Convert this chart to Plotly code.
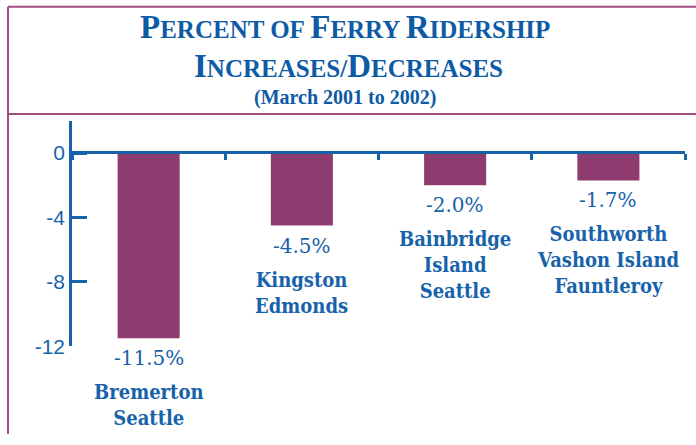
import plotly.graph_objects as go

categories = ["Bremerton<br>Seattle", "Kingston<br>Edmonds", "Bainbridge<br>Island<br>Seattle",
              "Southworth<br>Vashon Island<br>Fauntleroy"]
values = [-11.5, -4.5, -2.0, -1.7]
value_labels = ["-11.5%", "-4.5%", "-2.0%", "-1.7%"]
y_ticks = [0, -4, -8, -12]
y_tick_labels = ["0", "-4", "-8", "-12"]

W, H = 696, 445
BLUE = "#1763ab"
TITLE = "#0d5aa5"
BAR = "#8e3c70"
BORDER = "#a24d82"

def px(x):
    return x / W

def py(y):
    return 1 - y / H

fig = go.Figure()
fig.add_trace(go.Bar(x=categories, y=values, marker_color=BAR, marker_line_width=0, width=0.405))

ann = []
for c, v, lab in zip(categories, values, value_labels):
    ann.append(dict(x=c, y=v, xref="x", yref="y", text=lab, showarrow=False,
                    yanchor="top", yshift=-6,
                    font=dict(family="DejaVu Serif", size=20, color=BLUE)))
    ann.append(dict(x=c, y=v, xref="x", yref="y", text="<b>" + c.replace("<br>", "</b><br><b>") + "</b>",
                    showarrow=False, yanchor="top", yshift=-40,
                    font=dict(family="DejaVu Serif Condensed, DejaVu Serif", size=20, color=BLUE)))

BIG, SMALL = 33, 25

def smallcaps(s):
    out = []
    for word in s.split(" "):
        if word == "OF":
            out.append(word)
        else:
            out.append("<span style='font-size:%dpx'>%s</span>%s" % (BIG, word[0], word[1:]))
    return " ".join(out)

ann.append(dict(x=px(345), y=py(28), xref="paper", yref="paper", showarrow=False,
                text="<b>" + smallcaps("PERCENT OF FERRY RIDERSHIP") + "</b>",
                yanchor="middle", font=dict(family="Liberation Serif", size=SMALL, color=TITLE)))
ann.append(dict(x=px(348), y=py(68), xref="paper", yref="paper", showarrow=False,
                text="<b><span style='font-size:%dpx'>I</span>NCREASES/<span style='font-size:%dpx'>D</span>ECREASES</b>" % (BIG, BIG),
                yanchor="middle", font=dict(family="Liberation Serif", size=SMALL, color=TITLE)))
ann.append(dict(x=px(345), y=py(99.5), xref="paper", yref="paper", showarrow=False,
                text="<b>(March 2001 to 2002)</b>",
                yanchor="middle", font=dict(family="Liberation Serif", size=20, color=TITLE)))

shapes = [
    dict(type="line", xref="paper", yref="paper", x0=px(8), x1=1, y0=py(7), y1=py(7),
         line=dict(color=BORDER, width=2)),
    dict(type="line", xref="paper", yref="paper", x0=px(8), x1=1, y0=py(117), y1=py(117),
         line=dict(color=BORDER, width=2)),
    dict(type="line", xref="paper", yref="paper", x0=px(8), x1=px(8), y0=py(7), y1=0,
         line=dict(color=BORDER, width=2)),
]

fig.update_layout(
    width=W, height=H, margin=dict(l=0, r=0, t=0, b=0),
    paper_bgcolor="white", plot_bgcolor="white", showlegend=False,
    annotations=ann, shapes=shapes,
    xaxis=dict(domain=[px(72), px(685)], anchor="free", position=(H - 156) / H,
               type="category", showticklabels=False, showgrid=False, zeroline=False,
               showline=True, linecolor=BLUE, linewidth=3,
               ticks="outside", tickson="boundaries", ticklen=6, tickwidth=2.5, tickcolor=BLUE,
               range=[-0.5, 3.5]),
    yaxis=dict(domain=[(H - 355) / H, (H - 124) / H], range=[-12, 2],
               tickvals=y_ticks, ticktext=y_tick_labels, showgrid=False, zeroline=False,
               showline=True, linecolor=BLUE, linewidth=2.5,
               ticks="inside", ticklen=15, tickwidth=2.5, tickcolor=BLUE,
               tickfont=dict(family="Liberation Sans", size=21, color=BLUE)),
)

fig.write_html("out.html")
